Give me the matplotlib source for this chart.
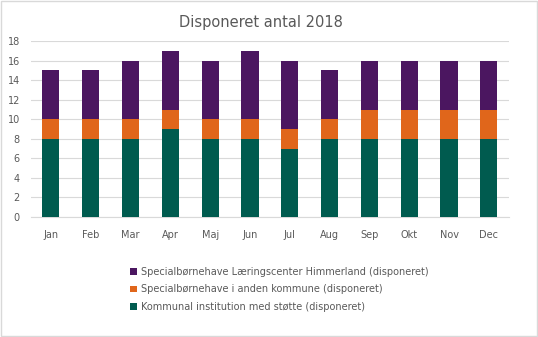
import matplotlib.pyplot as plt
import numpy as np
from matplotlib.patches import Rectangle

months = ['Jan', 'Feb', 'Mar', 'Apr', 'Maj', 'Jun', 'Jul', 'Aug', 'Sep', 'Okt', 'Nov', 'Dec']
kommunal = [8, 8, 8, 9, 8, 8, 7, 8, 8, 8, 8, 8]
anden_kommune = [2, 2, 2, 2, 2, 2, 2, 2, 3, 3, 3, 3]
laeringscenter = [5, 5, 6, 6, 6, 7, 7, 5, 5, 5, 5, 5]

labels = ['Kommunal institution med støtte (disponeret)',
          'Specialbørnehave i anden kommune (disponeret)',
          'Specialbørnehave Læringscenter Himmerland (disponeret)']

C_GREEN = '#005B4F'
C_ORANGE = '#E0661B'
C_PURPLE = '#4B1660'
TXT = '#595959'

fig = plt.figure(figsize=(5.38, 3.37), dpi=100)
ax = fig.add_axes([0.0576, 0.356, 0.888, 0.522])

x = np.arange(len(months))
w = 0.43
b1 = ax.bar(x, kommunal, w, color=C_GREEN, zorder=3)
bottom2 = np.array(kommunal)
b2 = ax.bar(x, anden_kommune, w, bottom=bottom2, color=C_ORANGE, zorder=3)
bottom3 = bottom2 + np.array(anden_kommune)
b3 = ax.bar(x, laeringscenter, w, bottom=bottom3, color=C_PURPLE, zorder=3)

ax.set_xlim(-0.5, len(months) - 0.5)
ax.set_ylim(0, 18)
ax.set_yticks(range(0, 19, 2))
ax.set_xticks(x)
ax.set_xticklabels(months)
ax.yaxis.grid(True, color='#D9D9D9', linewidth=0.8, zorder=0)
for s in ['top', 'right', 'left']:
    ax.spines[s].set_visible(False)
ax.spines['bottom'].set_color('#D9D9D9')
ax.tick_params(axis='both', length=0, labelsize=7, colors=TXT)
ax.tick_params(axis='x', pad=9)
ax.tick_params(axis='y', pad=8)

fig.text(0.485, 0.933, 'Disponeret antal 2018', ha='center', va='center',
         fontsize=10.5, color=TXT)

# legend, top entry first
leg = fig.legend([b3, b2, b1], labels[::-1], loc='upper left',
                 bbox_to_anchor=(0.235, 0.219), frameon=False, fontsize=7,
                 handlelength=0.7, handleheight=0.7, handletextpad=0.4,
                 labelspacing=0.75, borderaxespad=0)
for t in leg.get_texts():
    t.set_color(TXT)

# thin outer border
fig.patches.append(Rectangle((0.002, 0.003), 0.996, 0.994, transform=fig.transFigure,
                             fill=False, edgecolor='#D9D9D9', linewidth=1))

fig.savefig('out.png', dpi=100)
